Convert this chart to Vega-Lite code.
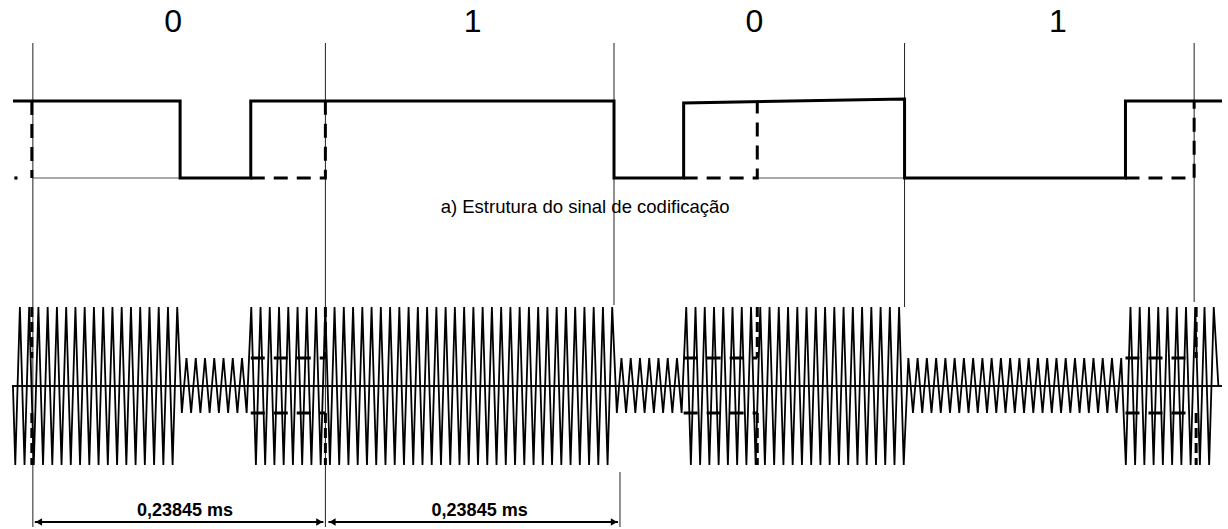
{
"$schema": "https://vega.github.io/schema/vega-lite/v6.json",
"width": 1228, "height": 529,
"autosize": {"type": "fit", "contains": "padding"},
"padding": 0,
"background": "white",
"config": {"view": {"stroke": null}},
"encoding": {
 "x": {"field": "u", "type": "quantitative", "scale": {"domain": [-3.3, 260.78], "nice": false, "zero": false}, "axis": null},
 "y": {"field": "v", "type": "quantitative", "scale": {"domain": [0, 529], "reverse": true, "nice": false, "zero": false}, "axis": null}
},
"layer": [
 {"data": {"values": [
  {"u": 3.8, "v": 43, "v2": 527}, {"u": 67.02, "v": 43, "v2": 527}, {"u": 129.39, "v": 43, "v2": 305},
  {"u": 192.18, "v": 43, "v2": 307}, {"u": 254.76, "v": 43, "v2": 302}, {"u": 130.68, "v": 472, "v2": 527}]},
  "mark": {"type": "rule", "color": "#222", "strokeWidth": 1},
  "encoding": {"y2": {"field": "v2"}}},
 {"data": {"values": [{"u": 3.8, "u2": 35.62, "v": 178}, {"u": 160.35, "u2": 192.18, "v": 178}]},
  "mark": {"type": "rule", "color": "#555", "strokeWidth": 1.2},
  "encoding": {"x2": {"field": "u2"}}},
 {"data": {"values": [{"u": -0.72, "u2": 260.78, "v": 386}]},
  "mark": {"type": "rule", "color": "#111", "strokeWidth": 2},
  "encoding": {"x2": {"field": "u2"}}},
 {"data": {"values": [
  {"u":-0.5,"v":386},
  {"u":0,"v":465},{"u":1,"v":307},{"u":2,"v":465},{"u":3,"v":307},{"u":4,"v":465},{"u":5,"v":307},{"u":6,"v":465},{"u":7,"v":307},{"u":8,"v":465},{"u":9,"v":307},
  {"u":10,"v":465},{"u":11,"v":307},{"u":12,"v":465},{"u":13,"v":307},{"u":14,"v":465},{"u":15,"v":307},{"u":16,"v":465},{"u":17,"v":307},{"u":18,"v":465},{"u":19,"v":307},
  {"u":20,"v":465},{"u":21,"v":307},{"u":22,"v":465},{"u":23,"v":307},{"u":24,"v":465},{"u":25,"v":307},{"u":26,"v":465},{"u":27,"v":307},{"u":28,"v":465},{"u":29,"v":307},
  {"u":30,"v":465},{"u":31,"v":307},{"u":32,"v":465},{"u":33,"v":307},{"u":34,"v":465},{"u":35,"v":307},
  {"u":36,"v":413},{"u":37,"v":358},{"u":38,"v":413},{"u":39,"v":358},{"u":40,"v":413},{"u":41,"v":358},{"u":42,"v":413},{"u":43,"v":358},{"u":44,"v":413},{"u":45,"v":358},
  {"u":46,"v":413},{"u":47,"v":358},{"u":48,"v":413},{"u":49,"v":358},{"u":50,"v":413},
  {"u":51,"v":307},{"u":52,"v":465},{"u":53,"v":307},{"u":54,"v":465},{"u":55,"v":307},{"u":56,"v":465},{"u":57,"v":307},{"u":58,"v":465},{"u":59,"v":307},
  {"u":60,"v":465},{"u":61,"v":307},{"u":62,"v":465},{"u":63,"v":307},{"u":64,"v":465},{"u":65,"v":307},{"u":66,"v":465},{"u":67,"v":307},{"u":68,"v":465},{"u":69,"v":307},
  {"u":70,"v":465},{"u":71,"v":307},{"u":72,"v":465},{"u":73,"v":307},{"u":74,"v":465},{"u":75,"v":307},{"u":76,"v":465},{"u":77,"v":307},{"u":78,"v":465},{"u":79,"v":307},
  {"u":80,"v":465},{"u":81,"v":307},{"u":82,"v":465},{"u":83,"v":307},{"u":84,"v":465},{"u":85,"v":307},{"u":86,"v":465},{"u":87,"v":307},{"u":88,"v":465},{"u":89,"v":307},
  {"u":90,"v":465},{"u":91,"v":307},{"u":92,"v":465},{"u":93,"v":307},{"u":94,"v":465},{"u":95,"v":307},{"u":96,"v":465},{"u":97,"v":307},{"u":98,"v":465},{"u":99,"v":307},
  {"u":100,"v":465},{"u":101,"v":307},{"u":102,"v":465},{"u":103,"v":307},{"u":104,"v":465},{"u":105,"v":307},{"u":106,"v":465},{"u":107,"v":307},{"u":108,"v":465},{"u":109,"v":307},
  {"u":110,"v":465},{"u":111,"v":307},{"u":112,"v":465},{"u":113,"v":307},{"u":114,"v":465},{"u":115,"v":307},{"u":116,"v":465},{"u":117,"v":307},{"u":118,"v":465},{"u":119,"v":307},
  {"u":120,"v":465},{"u":121,"v":307},{"u":122,"v":465},{"u":123,"v":307},{"u":124,"v":465},{"u":125,"v":307},{"u":126,"v":465},{"u":127,"v":307},{"u":128,"v":465},{"u":129,"v":307},
  {"u":130,"v":413},{"u":131,"v":358},{"u":132,"v":413},{"u":133,"v":358},{"u":134,"v":413},{"u":135,"v":358},{"u":136,"v":413},{"u":137,"v":358},{"u":138,"v":413},{"u":139,"v":358},
  {"u":140,"v":413},{"u":141,"v":358},{"u":142,"v":413},{"u":143,"v":358},{"u":144,"v":413},
  {"u":145,"v":307},{"u":146,"v":465},{"u":147,"v":307},{"u":148,"v":465},{"u":149,"v":307},
  {"u":150,"v":465},{"u":151,"v":307},{"u":152,"v":465},{"u":153,"v":307},{"u":154,"v":465},{"u":155,"v":307},{"u":156,"v":465},{"u":157,"v":307},{"u":158,"v":465},{"u":159,"v":307},
  {"u":160,"v":465},{"u":161,"v":307},{"u":162,"v":465},{"u":163,"v":307},{"u":164,"v":465},{"u":165,"v":307},{"u":166,"v":465},{"u":167,"v":307},{"u":168,"v":465},{"u":169,"v":307},
  {"u":170,"v":465},{"u":171,"v":307},{"u":172,"v":465},{"u":173,"v":307},{"u":174,"v":465},{"u":175,"v":307},{"u":176,"v":465},{"u":177,"v":307},{"u":178,"v":465},{"u":179,"v":307},
  {"u":180,"v":465},{"u":181,"v":307},{"u":182,"v":465},{"u":183,"v":307},{"u":184,"v":465},{"u":185,"v":307},{"u":186,"v":465},{"u":187,"v":307},{"u":188,"v":465},{"u":189,"v":307},
  {"u":190,"v":465},{"u":191,"v":307},{"u":192,"v":465},
  {"u":193,"v":358},{"u":194,"v":413},{"u":195,"v":358},{"u":196,"v":413},{"u":197,"v":358},{"u":198,"v":413},{"u":199,"v":358},
  {"u":200,"v":413},{"u":201,"v":358},{"u":202,"v":413},{"u":203,"v":358},{"u":204,"v":413},{"u":205,"v":358},{"u":206,"v":413},{"u":207,"v":358},{"u":208,"v":413},{"u":209,"v":358},
  {"u":210,"v":413},{"u":211,"v":358},{"u":212,"v":413},{"u":213,"v":358},{"u":214,"v":413},{"u":215,"v":358},{"u":216,"v":413},{"u":217,"v":358},{"u":218,"v":413},{"u":219,"v":358},
  {"u":220,"v":413},{"u":221,"v":358},{"u":222,"v":413},{"u":223,"v":358},{"u":224,"v":413},{"u":225,"v":358},{"u":226,"v":413},{"u":227,"v":358},{"u":228,"v":413},{"u":229,"v":358},
  {"u":230,"v":413},{"u":231,"v":358},{"u":232,"v":413},{"u":233,"v":358},{"u":234,"v":413},{"u":235,"v":358},{"u":236,"v":413},{"u":237,"v":358},{"u":238,"v":413},{"u":239,"v":358},
  {"u":240,"v":465},{"u":241,"v":307},{"u":242,"v":465},{"u":243,"v":307},{"u":244,"v":465},{"u":245,"v":307},{"u":246,"v":465},{"u":247,"v":307},{"u":248,"v":465},{"u":249,"v":307},
  {"u":250,"v":465},{"u":251,"v":307},{"u":252,"v":465},{"u":253,"v":307},{"u":254,"v":465},{"u":255,"v":307},{"u":256,"v":465},{"u":257,"v":307},{"u":258,"v":465},{"u":259,"v":307},
  {"u":260,"v":386}]},
  "mark": {"type": "line", "color": "#000", "strokeWidth": 1.8, "strokeJoin": "miter"},
  "encoding": {}},
 {"data": {"values": [
  {"i":0,"u":-0.5,"v":101},{"i":1,"u":35.62,"v":101},{"i":2,"u":35.62,"v":178},{"i":3,"u":50.89,"v":178},{"i":4,"u":50.89,"v":101},
  {"i":5,"u":129.39,"v":101},{"i":6,"u":129.39,"v":178},{"i":7,"u":144.44,"v":178},{"i":8,"u":144.44,"v":103},{"i":9,"u":192.18,"v":99},
  {"i":10,"u":192.18,"v":178},{"i":11,"u":239.92,"v":178},{"i":12,"u":239.92,"v":101},{"i":13,"u":260.78,"v":101}]},
  "mark": {"type": "line", "color": "#000", "strokeWidth": 3, "strokeJoin": "miter"},
  "encoding": {"order": {"field": "i", "type": "quantitative"}}},
 {"data": {"values": [
  {"s":"A","i":0,"u":3.58,"v":101},{"s":"A","i":1,"u":3.58,"v":178},
  {"s":"B","i":0,"u":50.89,"v":178},{"s":"B","i":1,"u":67.02,"v":178},{"s":"B","i":2,"u":67.02,"v":101},
  {"s":"C","i":0,"u":144.44,"v":178},{"s":"C","i":1,"u":160.35,"v":178},{"s":"C","i":2,"u":160.35,"v":101},
  {"s":"D","i":0,"u":239.92,"v":178},{"s":"D","i":1,"u":254.76,"v":178},{"s":"D","i":2,"u":254.76,"v":101},
  {"s":"E1","i":0,"u":50.89,"v":358},{"s":"E1","i":1,"u":67.02,"v":358},
  {"s":"E2","i":0,"u":50.89,"v":413},{"s":"E2","i":1,"u":67.02,"v":413},
  {"s":"F1","i":0,"u":144.44,"v":358},{"s":"F1","i":1,"u":160.35,"v":358},
  {"s":"F2","i":0,"u":144.44,"v":413},{"s":"F2","i":1,"u":160.35,"v":413},
  {"s":"G1","i":0,"u":239.92,"v":358},{"s":"G1","i":1,"u":254.76,"v":358},
  {"s":"G2","i":0,"u":239.92,"v":413},{"s":"G2","i":1,"u":254.76,"v":413}]},
  "mark": {"type": "line", "color": "#000", "strokeWidth": 3, "strokeDash": [14, 9]},
  "encoding": {"detail": {"field": "s", "type": "nominal"}, "order": {"field": "i", "type": "quantitative"}}},
 {"data": {"values": [
  {"u": 3.58, "v": 307, "v2": 358}, {"u": 3.58, "v": 413, "v2": 465},
  {"u": 67.02, "v": 307, "v2": 358}, {"u": 67.02, "v": 413, "v2": 465},
  {"u": 160.35, "v": 307, "v2": 358}, {"u": 160.35, "v": 413, "v2": 465},
  {"u": 255.19, "v": 307, "v2": 358}, {"u": 255.19, "v": 413, "v2": 465}]},
  "mark": {"type": "rule", "color": "#000", "strokeWidth": 3, "strokeDash": [10, 5]},
  "encoding": {"y2": {"field": "v2"}}},
 {"data": {"values": [{"u": 4.23, "u2": 66.59, "v": 522}, {"u": 67.67, "u2": 130.25, "v": 522}]},
  "mark": {"type": "rule", "color": "#000", "strokeWidth": 2},
  "encoding": {"x2": {"field": "u2"}}},
 {"data": {"values": [
  {"u": 5.09, "v": 522, "d": "L"}, {"u": 65.73, "v": 522, "d": "R"},
  {"u": 68.53, "v": 522, "d": "L"}, {"u": 129.39, "v": 522, "d": "R"}]},
  "mark": {"type": "point", "filled": true, "color": "#000", "size": 55, "opacity": 1},
  "encoding": {"shape": {"field": "d", "type": "nominal", "scale": {"domain": ["L", "R"], "range": ["triangle-left", "triangle-right"]}, "legend": null}}},
 {"data": {"values": [{"u": 0.14, "v": 178}]},
  "mark": {"type": "point", "filled": true, "color": "#000", "size": 10, "shape": "square", "opacity": 1}},
 {"data": {"values": [
  {"u": 34.12, "v": 22, "t": "0"}, {"u": 98.85, "v": 22, "t": "1"},
  {"u": 159.71, "v": 22, "t": "0"}, {"u": 225.3, "v": 22, "t": "1"}]},
  "mark": {"type": "text", "font": "Liberation Sans", "fontSize": 32, "color": "#000", "baseline": "middle", "align": "center"},
  "encoding": {"text": {"field": "t"}}},
 {"data": {"values": [{"u": 123.15, "v": 207, "t": "a) Estrutura do sinal de codificação"}]},
  "mark": {"type": "text", "font": "Liberation Sans", "fontSize": 18.5, "color": "#000", "baseline": "middle", "align": "center"},
  "encoding": {"text": {"field": "t"}}},
 {"data": {"values": [{"u": 36.7, "v": 511, "t": "0,23845 ms"}, {"u": 100.35, "v": 511, "t": "0,23845 ms"}]},
  "mark": {"type": "text", "font": "Liberation Sans", "fontSize": 18, "fontWeight": "bold", "color": "#000", "baseline": "middle", "align": "center"},
  "encoding": {"text": {"field": "t"}}}
]
}
